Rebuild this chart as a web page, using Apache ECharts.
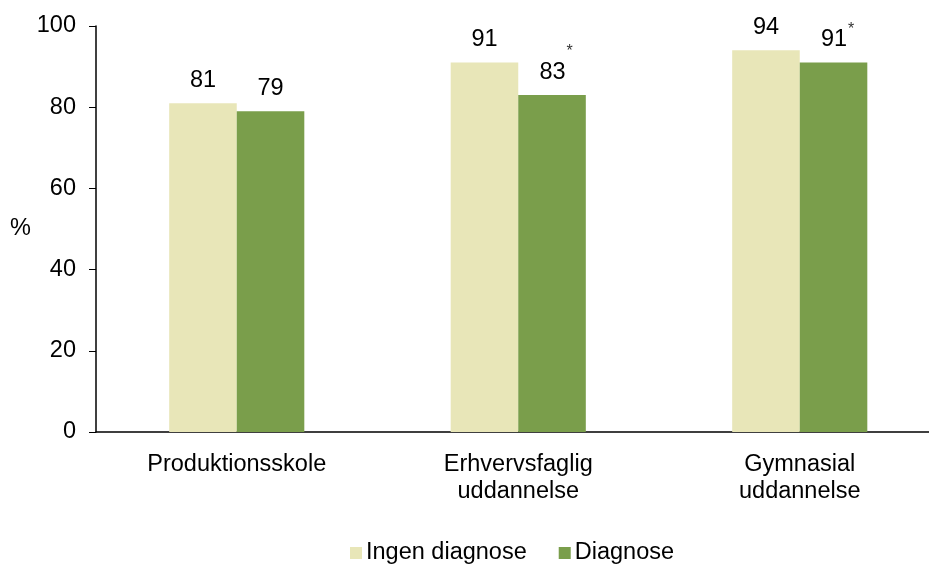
<!DOCTYPE html>
<html><head><meta charset="utf-8">
<script src="https://cdn.jsdelivr.net/npm/echarts@6/dist/echarts.min.js"></script>
<style>html,body{margin:0;padding:0;background:#fff}#c{width:929px;height:569px}</style>
</head><body><div id="c"></div>
<script>
const categories = ['Produktionsskole', 'Erhvervsfaglig\nuddannelse', 'Gymnasial\nuddannelse'];
const seriesNames = ['Ingen diagnose', 'Diagnose'];
const ingenDiagnose = [81, 91, 94];
const diagnose = [79, 83, 91];
const diagnoseStars = ['', '*', '*'];
const yTicks = [0, 20, 40, 60, 80, 100];

const FONT = 'Liberation Sans, Arial, sans-serif';
const FS = 23.5;
const starLineHeight = [26, 40, 30];

function starData(vals, stars) {
  return vals.map((v, i) => {
    if (!stars[i]) return v;
    return {
      value: v,
      label: {
        formatter: '{p|' + stars[i] + '}{v|{c}}{s|' + stars[i] + '}',
        rich: {
          p: { fontSize: 16, fontFamily: FONT, color: 'transparent', lineHeight: starLineHeight[i], padding: [0, 2, 0, 0] },
          v: { fontSize: FS, fontFamily: FONT, color: '#000', lineHeight: 26, verticalAlign: 'bottom' },
          s: { fontSize: 16, fontFamily: FONT, color: '#333', lineHeight: 15, verticalAlign: 'top', padding: [0, 0, 0, 1] }
        }
      }
    };
  });
}

const chart = echarts.init(document.getElementById('c'));
chart.setOption({
  animation: false,
  textStyle: { fontFamily: FONT },
  grid: { left: 96, top: 26, height: 406, width: 844.5, outerBoundsMode: 'none', containLabel: false },
  legend: {
    left: 345, top: 536,
    itemWidth: 12, itemHeight: 12, itemGap: 32,
    icon: 'rect',
    textStyle: { fontSize: FS, fontFamily: FONT, color: '#000', padding: [0, 0, 0, -1] },
    data: seriesNames
  },
  xAxis: {
    type: 'category',
    data: categories,
    axisLine: { lineStyle: { color: '#000', width: 1.5 } },
    axisTick: { inside: true, length: 7, lineStyle: { color: '#000' } },
    axisLabel: { fontSize: FS, fontFamily: FONT, color: '#000', lineHeight: 27, margin: 19 }
  },
  yAxis: {
    type: 'value', min: 0, max: 100, interval: 20,
    name: '%', nameLocation: 'middle', nameRotate: 0, nameGap: 62,
    nameTextStyle: { fontSize: FS, fontFamily: FONT, color: '#000' },
    axisLine: { show: true, lineStyle: { color: '#000', width: 1.5 } },
    axisTick: { show: true, length: 7, lineStyle: { color: '#000' } },
    axisLabel: { fontSize: FS, fontFamily: FONT, color: '#000', margin: 20,
      formatter: v => yTicks.includes(v) ? String(v) : '' },
    splitLine: { show: false }
  },
  series: [
    {
      name: seriesNames[0], type: 'bar', data: ingenDiagnose,
      barWidth: '24%', barGap: '0%',
      itemStyle: { color: '#E8E6B8' },
      label: { show: true, position: 'top', distance: 11, fontSize: FS, fontFamily: FONT, color: '#000' }
    },
    {
      name: seriesNames[1], type: 'bar', data: starData(diagnose, diagnoseStars),
      barWidth: '24%', barGap: '0%',
      itemStyle: { color: '#7A9E4B' },
      label: { show: true, position: 'top', distance: 11, fontSize: FS, fontFamily: FONT, color: '#000' }
    }
  ]
});
</script>
</body></html>
